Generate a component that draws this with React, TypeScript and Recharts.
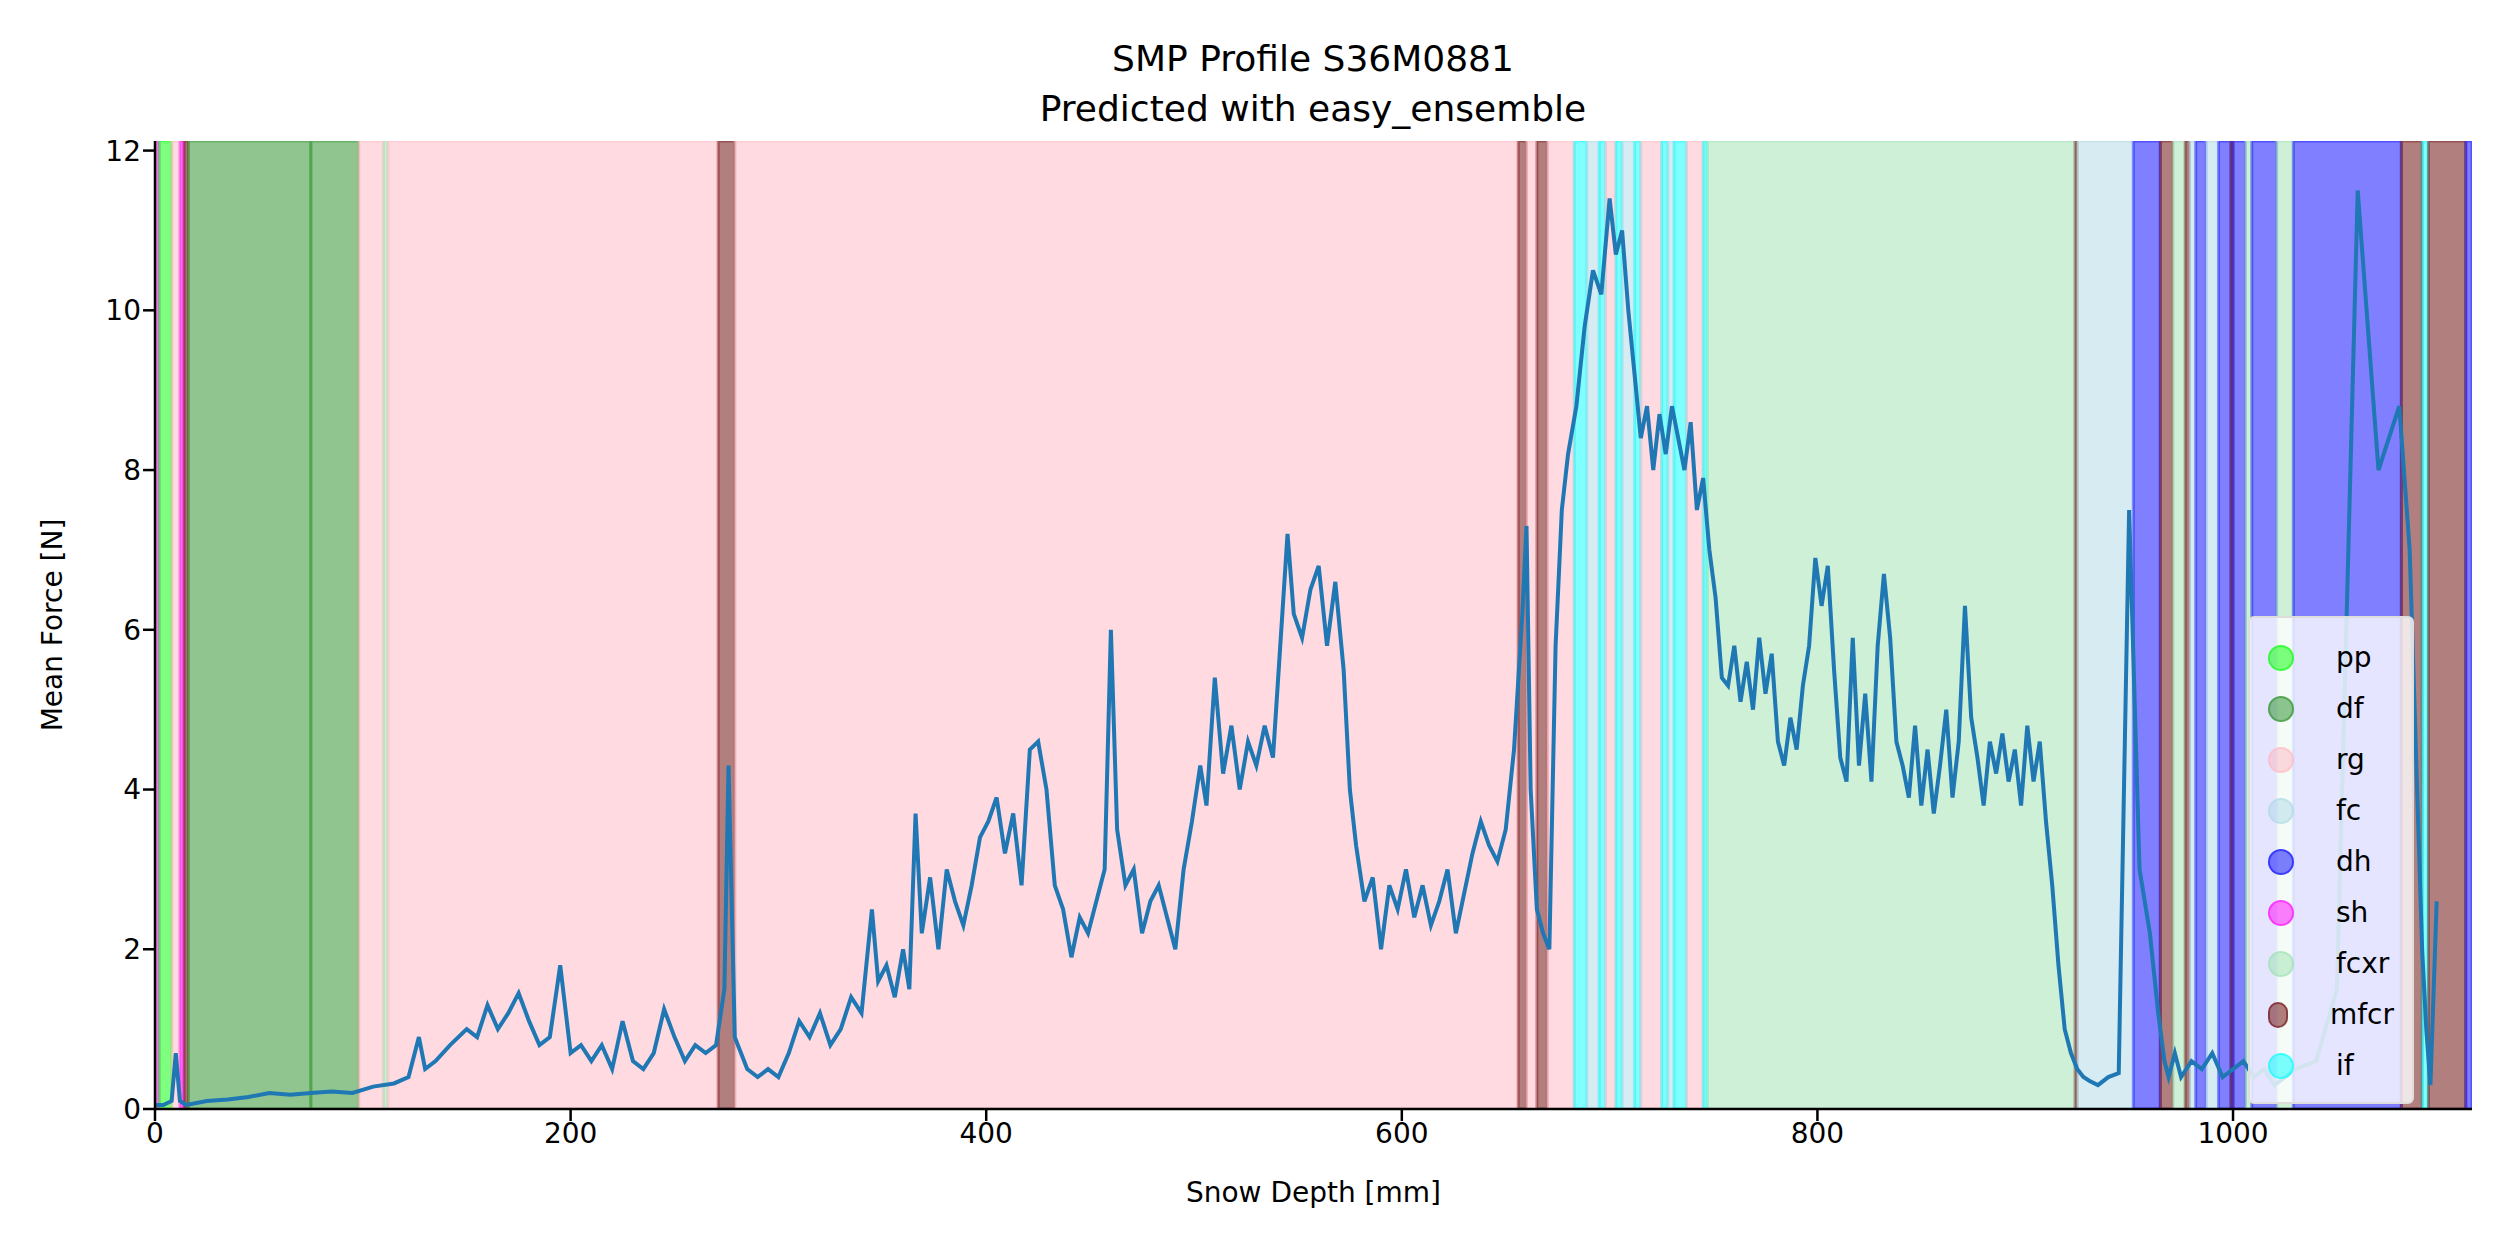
import React from 'react';
import { ComposedChart, Line, XAxis, YAxis, ReferenceArea } from 'recharts';

const depth = [
  0, 4, 8, 10, 12, 15, 25, 35, 45, 55, 65, 75, 85, 95, 105, 115, 122, 127, 130, 135, 142, 150, 155, 160, 165, 170,
  175, 180, 185, 190, 195, 200, 205, 210, 215, 220, 225, 230, 235, 240, 245, 250, 255, 260, 265, 270, 274, 276, 279,
  285, 290, 295, 300, 305, 310, 315, 320, 325, 330, 335, 340, 345, 348, 352, 356, 360, 363, 366, 369, 373, 377, 381,
  385, 389, 393, 397, 401, 405, 409, 413, 417, 421, 425, 429, 433, 437, 441, 445, 449, 453, 457, 460, 463, 467, 471,
  475, 479, 483, 487, 491, 495, 499, 503, 506, 510, 514, 518, 522, 526, 530, 534, 538, 542, 545, 548, 552, 556, 560,
  564, 568, 572, 575, 578, 582, 586, 590, 594, 598, 602, 606, 610, 614, 618, 622, 626, 630, 634, 638, 642, 646, 650,
  654, 658, 660, 662, 665, 668, 671, 674, 677, 680, 684, 688, 692, 696, 700, 703, 706, 709, 712, 715, 718, 721, 724,
  727, 730, 733, 736, 739, 742, 745, 748, 751, 754, 757, 760, 763, 766, 769, 772, 775, 778, 781, 784, 787, 790, 793,
  796, 799, 802, 805, 808, 811, 814, 817, 820, 823, 826, 829, 832, 835, 838, 841, 844, 847, 850, 853, 856, 859, 862,
  865, 868, 871, 874, 877, 880, 883, 886, 889, 892, 895, 898, 901, 904, 907, 910, 913, 916, 919, 922, 925, 928, 931,
  935, 940, 945, 950, 955, 960, 964, 967, 969, 972, 975, 980, 985, 990, 995, 1000, 1005, 1010, 1015, 1020, 1030, 1040,
  1050, 1060, 1070, 1080, 1085, 1088, 1091, 1093, 1095, 1098, 1101, 1104, 1107, 1110, 1113, 1115,
];
const force = [
  0.05, 0.05, 0.1, 0.7, 0.1, 0.05, 0.1, 0.12, 0.15, 0.2, 0.18, 0.2, 0.22, 0.2, 0.28, 0.32, 0.4, 0.9, 0.5, 0.6, 0.8,
  1.0, 0.9, 1.3, 1.0, 1.2, 1.45, 1.1, 0.8, 0.9, 1.8, 0.7, 0.8, 0.6, 0.8, 0.5, 1.1, 0.6, 0.5, 0.7, 1.25, 0.9, 0.6, 0.8,
  0.7, 0.8, 1.5, 4.3, 0.9, 0.5, 0.4, 0.5, 0.4, 0.7, 1.1, 0.9, 1.2, 0.8, 1.0, 1.4, 1.2, 2.5, 1.6, 1.8, 1.4, 2.0, 1.5,
  3.7, 2.2, 2.9, 2.0, 3.0, 2.6, 2.3, 2.8, 3.4, 3.6, 3.9, 3.2, 3.7, 2.8, 4.5, 4.6, 4.0, 2.8, 2.5, 1.9, 2.4, 2.2, 2.6,
  3.0, 6.0, 3.5, 2.8, 3.0, 2.2, 2.6, 2.8, 2.4, 2.0, 3.0, 3.6, 4.3, 3.8, 5.4, 4.2, 4.8, 4.0, 4.6, 4.3, 4.8, 4.4, 6.0,
  7.2, 6.2, 5.9, 6.5, 6.8, 5.8, 6.6, 5.5, 4.0, 3.3, 2.6, 2.9, 2.0, 2.8, 2.5, 3.0, 2.4, 2.8, 2.3, 2.6, 3.0, 2.2, 2.7,
  3.2, 3.6, 3.3, 3.1, 3.5, 4.5, 6.2, 7.3, 4.0, 2.5, 2.2, 2.0, 5.8, 7.5, 8.2, 8.8, 9.8, 10.5, 10.2, 11.4, 10.7, 11.0,
  10.0, 9.2, 8.4, 8.8, 8.0, 8.7, 8.2, 8.8, 8.4, 8.0, 8.6, 7.5, 7.9, 7.0, 6.4, 5.4, 5.3, 5.8, 5.1, 5.6, 5.0, 5.9, 5.2,
  5.7, 4.6, 4.3, 4.9, 4.5, 5.3, 5.8, 6.9, 6.3, 6.8, 5.5, 4.4, 4.1, 5.9, 4.3, 5.2, 4.1, 5.8, 6.7, 5.9, 4.6, 4.3, 3.9,
  4.8, 3.8, 4.5, 3.7, 4.3, 5.0, 3.9, 4.6, 6.3, 4.9, 4.4, 3.8, 4.6, 4.2, 4.7, 4.1, 4.5, 3.8, 4.8, 4.1, 4.6, 3.6, 2.8,
  1.8, 1.0, 0.7, 0.5, 0.4, 0.35, 0.3, 0.4, 0.45, 7.5, 3.0, 2.2, 1.2, 0.6, 0.4, 0.7, 0.4, 0.6, 0.5, 0.7, 0.4, 0.5, 0.6,
  0.4, 0.5, 0.3, 0.5, 0.6, 1.5, 11.5, 8.0, 8.8, 7.0, 4.5, 2.0, 1.0, 0.3, 2.6,
];

const bandEdges = [
  0, 2, 8, 12, 14, 16, 75, 98, 110, 112, 271, 279, 656, 660, 665, 670, 683, 689, 695, 698, 703, 706, 712, 715, 725, 728,
  731, 737, 745, 747, 924, 925, 952, 965, 971, 977, 979, 982, 987, 993, 999, 1000, 1006, 1009, 1021, 1029, 1081, 1091,
  1094, 1112, 1115,
];
const bandClasses = [
  'sh', 'pp', 'rg', 'sh', 'mfcr', 'df', 'df', 'rg', 'fcxr', 'rg', 'mfcr', 'rg', 'mfcr', 'rg', 'mfcr', 'rg', 'if', 'fc',
  'if', 'rg', 'if', 'fc', 'if', 'rg', 'if', 'fc', 'if', 'rg', 'if', 'fcxr', 'mfcr', 'fc', 'dh', 'mfcr', 'fcxr', 'mfcr',
  'fc', 'dh', 'fc', 'dh', 'mfcr', 'dh', 'fcxr', 'dh', 'fcxr', 'dh', 'mfcr', 'if', 'mfcr', 'dh',
];

const classNames = ['pp', 'df', 'rg', 'fc', 'dh', 'sh', 'fcxr', 'mfcr', 'if'];
const classColors: Record<string, string> = {
  pp: '#00ff00', df: '#228b22', rg: '#ffb6c1', fc: '#add8e6', dh: '#0000ff',
  sh: '#ff00ff', fcxr: '#9ce2b0', mfcr: '#660000', if: '#00ffff',
};

const xTicks = [0, 200, 400, 600, 800, 1000];
const yTicks = [0, 2, 4, 6, 8, 10, 12];

const data = depth.map((d, i) => ({ d, f: force[i] }));
const font = 'DejaVu Sans, sans-serif';

const LegendBox = () => (
  <div style={{ position: 'absolute', left: 2248, top: 616, background: 'rgba(255,255,255,0.8)', border: '2px solid #ddd', borderRadius: 6, padding: '14px 18px 8px 18px', width: 166, fontFamily: font, fontSize: 28, boxSizing: 'border-box', height: 488 }}>
    {classNames.map((c) => (
      <div key={c} style={{ display: 'flex', alignItems: 'center', height: 51 }}>
        <span style={{ display: 'inline-block', width: 22, height: 22, borderRadius: 13, background: classColors[c] + '80', border: `2px solid ${classColors[c]}80`, marginRight: 42 }} />
        <span>{c}</span>
      </div>
    ))}
  </div>
);

export default function App() {
  return (
    <div style={{ position: 'absolute', left: 0, top: 0, width: 2500, height: 1250, background: '#fff', fontFamily: font }}>
      <div style={{ position: 'absolute', left: 0, width: 2626, top: 34, textAlign: 'center', fontSize: 36, lineHeight: '50px' }}>
        SMP Profile S36M0881<br />Predicted with easy_ensemble
      </div>
      <div style={{ position: 'absolute', left: 155, width: 2317, top: 1176, textAlign: 'center', fontSize: 28 }}>Snow Depth [mm]</div>
      <div style={{ position: 'absolute', left: 52, top: 625, fontSize: 28, transform: 'translate(-50%, -50%) rotate(-90deg)', whiteSpace: 'nowrap' }}>Mean Force [N]</div>
      <ComposedChart width={2500} height={1250} data={data} margin={{ top: 141, right: 28, bottom: 71, left: 0 }}>
        {bandClasses.map((c, i) => (
          <ReferenceArea key={i} x1={bandEdges[i]} x2={bandEdges[i + 1]} y1={0} y2={12.12} fill={classColors[c]} fillOpacity={0.5} stroke={classColors[c]} strokeOpacity={0.35} strokeWidth={3} ifOverflow="hidden" />
        ))}
        <XAxis dataKey="d" type="number" domain={[0, 1115]} ticks={xTicks} allowDataOverflow height={70} tickSize={12} stroke="#000" strokeWidth={2.5} tick={{ fontSize: 28, fill: '#000', fontFamily: font }} />
        <YAxis type="number" domain={[0, 12.12]} ticks={yTicks} allowDataOverflow width={155} tickSize={12} stroke="#000" strokeWidth={2.5} tick={{ fontSize: 28, fill: '#000', fontFamily: font }} />
        <Line dataKey="f" type="linear" stroke="#1f77b4" strokeWidth={4} dot={false} isAnimationActive={false} />
      </ComposedChart>
      <LegendBox />
    </div>
  );
}
